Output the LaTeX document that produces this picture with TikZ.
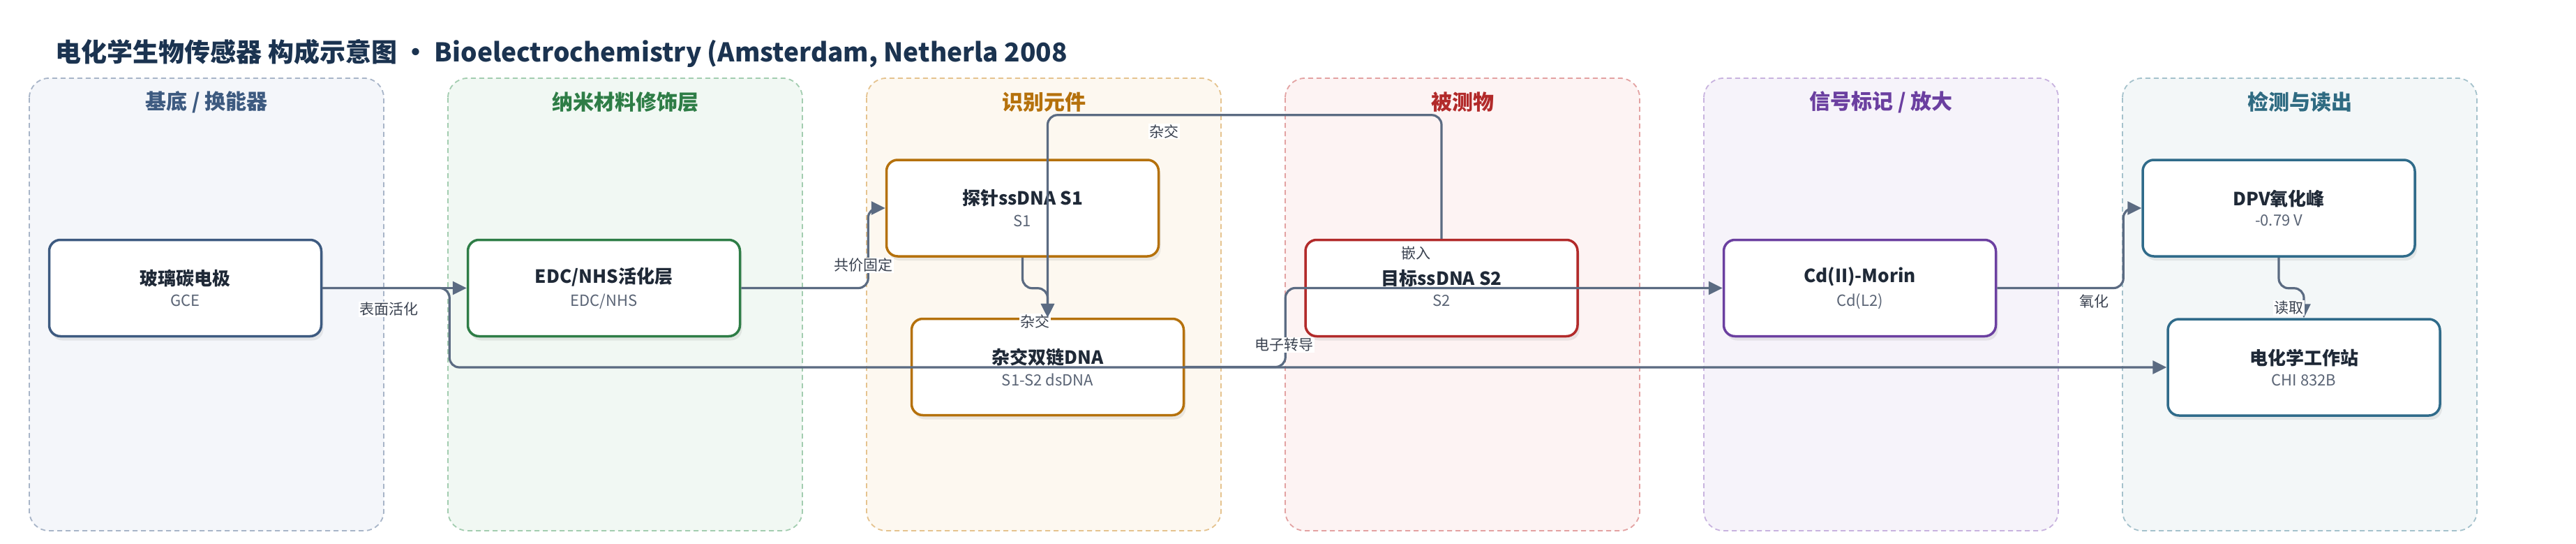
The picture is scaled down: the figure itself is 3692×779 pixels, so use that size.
\documentclass[tikz,border=0pt]{standalone}
\usepackage{fontspec}
\setmainfont{Noto Sans CJK SC}
\usetikzlibrary{arrows.meta, shadows}

\definecolor{titlecol}{HTML}{1B3350}
\definecolor{edgecol}{HTML}{5B6B82}
\definecolor{lbltext}{HTML}{3A4250}
\definecolor{maintext}{HTML}{1F2937}
\definecolor{subtext}{HTML}{5A6475}
% lanes
\definecolor{laAfill}{HTML}{F4F6FA}\definecolor{laAdraw}{HTML}{A8B5C8}\definecolor{laAtext}{HTML}{3D5A80}
\definecolor{laBfill}{HTML}{F1F8F3}\definecolor{laBdraw}{HTML}{A3CDB0}\definecolor{laBtext}{HTML}{2E7D46}
\definecolor{laCfill}{HTML}{FDF8F0}\definecolor{laCdraw}{HTML}{E5C38F}\definecolor{laCtext}{HTML}{B5710C}
\definecolor{laDfill}{HTML}{FDF3F3}\definecolor{laDdraw}{HTML}{E3A2A2}\definecolor{laDtext}{HTML}{B22A2A}
\definecolor{laEfill}{HTML}{F6F3FA}\definecolor{laEdraw}{HTML}{C8B3DF}\definecolor{laEtext}{HTML}{6B3FA0}
\definecolor{laFfill}{HTML}{F3F7F8}\definecolor{laFdraw}{HTML}{A5C2CC}\definecolor{laFtext}{HTML}{2F6B82}
\definecolor{nodeteal}{HTML}{2F6B8A}

\newcommand{\boxtext}[2]{{\bfseries\fontsize{26}{30}\selectfont\color{maintext}#1}\\[10pt]{\fontsize{22}{26}\selectfont\color{subtext}#2}}

\begin{document}
\begin{tikzpicture}[x=1pt, y=-1pt,
  lane/.style={draw=#1, dashed, dash pattern=on 7pt off 5pt, line width=1.8pt, rounded corners=28pt},
  lanetitle/.style={font=\bfseries\fontsize{30}{34}\selectfont},
  box/.style={draw=#1, fill=white, line width=3.5pt, rounded corners=16pt,
    minimum width=390pt, minimum height=138pt, align=center,
    drop shadow={shadow xshift=3pt, shadow yshift=-6pt, opacity=0.15}},
  conn/.style={draw=edgecol, line width=3.2pt, rounded corners=14pt, -{Triangle[length=20pt, width=19pt]}},
  lbl/.style={fill=white, text=lbltext, font=\fontsize{21}{24}\selectfont, inner sep=1.5pt}]

  \fill[white] (0,0) rectangle (3692,779);
  \useasboundingbox (0,0) rectangle (3692,779);

  \node[anchor=west, font=\bfseries\fontsize{37}{44}\selectfont, text=titlecol] (title) at (76,77)
    {电化学生物传感器 构成示意图 · Bioelectrochemistry (Amsterdam, Netherla 2008};

  % lanes
  \foreach \i/\ln/\ttl in {0/A/{基底 / 换能器}, 1/B/纳米材料修饰层, 2/C/识别元件,
                            3/D/被测物, 4/E/{信号标记 / 放大}, 5/F/检测与读出} {
    \draw[lane=la\ln draw, fill=la\ln fill] (42+600*\i,112) rectangle ++(508,648);
    \node[lanetitle, text=la\ln text] (lane\ln) at (296+600*\i,146) {\ttl};
  }

  % components
  \node[box=laAtext] (gce) at (265.5,412.5) {\boxtext{玻璃碳电极}{GCE}};
  \node[box=laBtext] (edc) at (865.5,412.5) {\boxtext{EDC/NHS活化层}{EDC/NHS}};
  \node[box=laCtext] (s1) at (1465.5,298) {\boxtext{探针ssDNA S1}{S1}};
  \node[box=laCtext] (ds) at (1501.5,525.5) {\boxtext{杂交双链DNA}{S1-S2 dsDNA}};
  \node[box=laDtext] (s2) at (2066,412.5) {\boxtext{目标ssDNA S2}{S2}};
  \node[box=laEtext] (cd) at (2665.5,412.5) {\boxtext{Cd(II)-Morin}{Cd(L2)}};
  \node[box=nodeteal] (dpv) at (3266,298) {\boxtext{DPV氧化峰}{-0.79 V}};
  \node[box=nodeteal] (ws) at (3302,526) {\boxtext{电化学工作站}{CHI 832B}};

  % connectors
  \draw[conn] (gce.east) -- (edc.west);
  \node[lbl] (l1) at (557,443) {表面活化};
  \draw[conn] (edc.east) -- ++(182,0) |- (s1.west);
  \node[lbl] (l2) at (1237,380) {共价固定};
  \draw[conn] (s1.south) -- ++(0,44) -| (ds.north);
  \node[lbl] (l3) at (1483,460) {杂交};
  \draw[conn] (s2.north) -- ++(0,-177) -| (ds.north);
  \node[lbl] (l4) at (1668,188) {杂交};
  \draw[conn] (ds.east) -- ++(144,0) |- (cd.west);
  \node[lbl] (l5) at (2029,363) {嵌入};
  \draw[conn] (cd.east) -- ++(181,0) |- (dpv.west);
  \node[lbl] (l6) at (3001,432) {氧化};
  \draw[conn] (dpv.south) -- ++(0,44) -| (ws.north);
  \node[lbl] (l7) at (3280,441) {读取};
  \draw[conn] (gce.east) -- ++(182,0) |- (ws.west);
  \node[lbl] (l8) at (1840,494) {电子转导};
\end{tikzpicture}
\end{document}
